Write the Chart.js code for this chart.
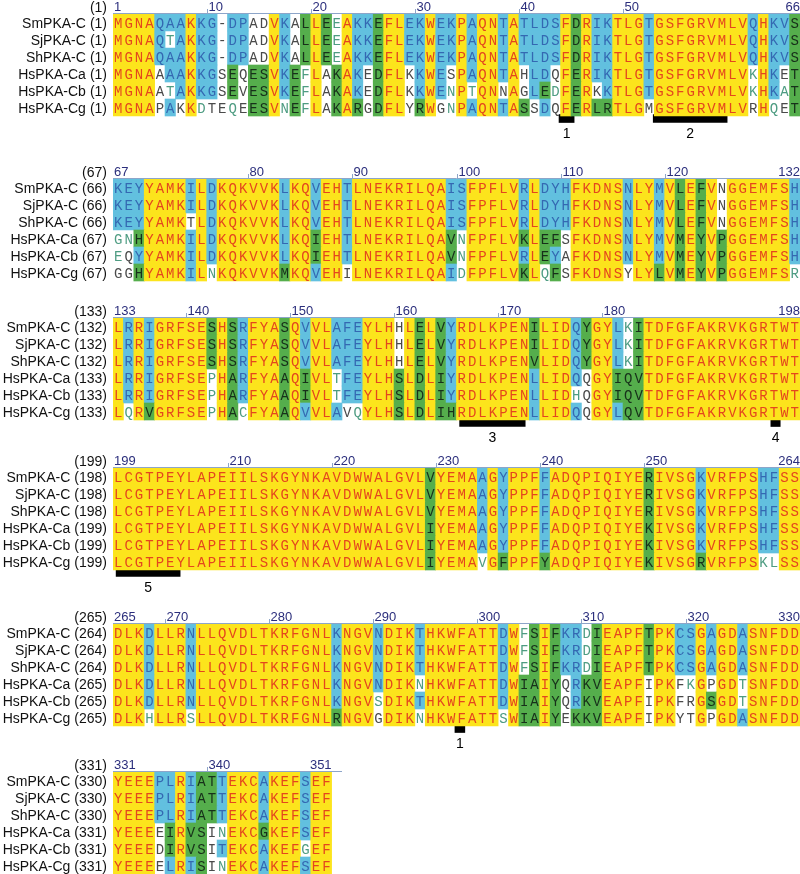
<!DOCTYPE html>
<html>
<head>
<meta charset="utf-8">
<script src="https://cdn.jsdelivr.net/npm/chart.js@4.4.1/dist/chart.umd.min.js"></script>
<style>
  html, body { margin: 0; padding: 0; background: #fff; }
  canvas { display: block; }
</style>
</head>
<body>
<canvas id="aln" width="800" height="874"></canvas>
<script>
const names = ["SmPKA-C", "SjPKA-C", "ShPKA-C", "HsPKA-Ca", "HsPKA-Cb", "HsPKA-Cg"]

// aligned sequences, one string per 66-column block
const seqSm = [
  "MGNAQAAKKG-DPADVKALLEEAKKEFLEKWEKPAQNTATLDSFDRIKTLGTGSFGRVMLVQHKVS",
  "KEYYAMKILDKQKVVKLKQVEHTLNEKRILQAISFPFLVRLDYHFKDNSNLYMVLEFVNGGEMFSH",
  "LRRIGRFSESHSRFYASQVVLAFEYLHHLELVYRDLKPENILIDQYGYLKITDFGFAKRVKGRTWT",
  "LCGTPEYLAPEIILSKGYNKAVDWWALGVLVYEMAAGYPPFFADQPIQIYERIVSGKVRFPSHFSS",
  "DLKDLLRNLLQVDLTKRFGNLKNGVNDIKTHKWFATTDWFSIFKRDIEAPFTPKCSGAGDASNFDD",
  "YEEEPLRIATTEKCAKEFSEF",
].join("")
const seqSj = [
  "MGNAQTAKKG-DPADVKALLEEAKKEFLEKWEKPAQNTATLDSFDRIKTLGTGSFGRVMLVQHKVS",
  "KEYYAMKILDKQKVVKLKQVEHTLNEKRILQAISFPFLVRLDYHFKDNSNLYMVLEFVNGGEMFSH",
  "LRRIGRFSESHSRFYASQVVLAFEYLHHLELVYRDLKPENILIDQYGYLKITDFGFAKRVKGRTWT",
  "LCGTPEYLAPEIILSKGYNKAVDWWALGVLVYEMAAGYPPFFADQPIQIYERIVSGKVRFPSHFSS",
  "DLKDLLRNLLQVDLTKRFGNLKNGVNDIKTHKWFATTDWFSIFKRDIEAPFTPKCSGAGDASNFDD",
  "YEEEPLRIATTEKCAKEFSEF",
].join("")
const seqSh = [
  "MGNAQAAKKG-DPADVKALLEEAKKEFLEKWEKPAQNTATLDSFDRIKTLGTGSFGRVMLVQHKVS",
  "KEYYAMKTLDKQKVVKLKQVEHTLNEKRILQAISFPFLVRLDYHFKDNSNLYMVLEFVNGGEMFSH",
  "LRRIGRFSESHSRFYASQVVLAFEYLHHLELVYRDLKPENVLIDQYGYLKITDFGFAKRVKGRTWT",
  "LCGTPEYLAPEIILSKGYNKAVDWWALGVLVYEMAAGYPPFFADQPIQIYERIVSGKVRFPSHFSS",
  "DLKDLLRNLLQVDLTKRFGNLKNGVNDIKTHKWFATTDWFSIFKRDIEAPFTPKCSGAGDASNFDD",
  "YEEEPLRIATTEKCAKEFSEF",
].join("")
const seqCa = [
  "MGNAAAAKKGSEQESVKEFLAKAKEDFLKKWESPAQNTAHLDQFERIKTLGTGSFGRVMLVKHKET",
  "GNHYAMKILDKQKVVKLKQIEHTLNEKRILQAVNFPFLVKLEFSFKDNSNLYMVMEYVPGGEMFSH",
  "LRRIGRFSEPHARFYAAQIVLTFEYLHSLDLIYRDLKPENLLIDQQGYIQVTDFGFAKRVKGRTWT",
  "LCGTPEYLAPEIILSKGYNKAVDWWALGVLIYEMAAGYPPFFADQPIQIYEKIVSGKVRFPSHFSS",
  "DLKDLLRNLLQVDLTKRFGNLKNGVNDIKNHKWFATTDWIAIYQRKVEAPFIPKFKGPGDTSNFDD",
  "YEEEEIRVSINEKCGKEFSEF",
].join("")
const seqCb = [
  "MGNAATAKKGSEVESVKEFLAKAKEDFLKKWENPTQNNAGLEDFERKKTLGTGSFGRVMLVKHKAT",
  "EQYYAMKILDKQKVVKLKQIEHTLNEKRILQAVNFPFLVRLEYAFKDNSNLYMVMEYVPGGEMFSH",
  "LRRIGRFSEPHARFYAAQIVLTFEYLHSLDLIYRDLKPENLLIDHQGYIQVTDFGFAKRVKGRTWT",
  "LCGTPEYLAPEIILSKGYNKAVDWWALGVLIYEMAAGYPPFFADQPIQIYEKIVSGKVRFPSHFSS",
  "DLKDLLRNLLQVDLTKRFGNLKNGVSDIKTHKWFATTDWIAIYQRKVEAPFIPKFRGSGDTSNFDD",
  "YEEEDIRVSITEKCAKEFGEF",
].join("")
const seqCg = [
  "MGNAPAKKDTEQEESVNEFLAKARGDFLYRWGNPAQNTASSDQFERLRTLGMGSFGRVMLVRHQET",
  "GGHYAMKILNKQKVVKMKQVEHILNEKRILQAIDFPFLVKLQFSFKDNSYLYLVMEYVPGGEMFSR",
  "LQRVGRFSEPHACFYAAQVVLAVQYLHSLDLIHRDLKPENLLIDQQGYLQVTDFGFAKRVKGRTWT",
  "LCGTPEYLAPEIILSKGYNKAVDWWALGVLIYEMAVGFPPFYADQPIQIYEKIVSGRVRFPSKLSS",
  "DLKHLLRSLLQVDLTKRFGNLRNGVGDIKNHKWFATTSWIAIYEKKVEAPFIPKYTGPGDASNFDD",
  "YEEEELRISINEKCAKEFSEF",
].join("")
const sequences = [seqSm, seqSj, seqSh, seqCa, seqCb, seqCg]

// shading per column, rows Sm..Cg top to bottom
// Y identical, B conserved, G similar, w weakly similar, n not similar; "Y9" = nine all-Y columns
const shade1 = "Y4 BBBnnn BwBBwB BBBBBn Y BBBBBw BBBBBn n BBBGGw BBBnnn nnnGGG nnnGGG Y BBBBBw nnnGGG GGGwww Y GGGnnn wwwGGG Y BBBBBG BBBnnn G Y2 BBBnnn BBBBBG Y BBBBBn BBBnww Y BBBBwB Y2 BBBBnB Y BBBnnG BBBBBn BBBBGB BBBnwn Y G Y BBBBnG BBBBBG Y3 BBBBBn Y9 BBBwwn Y BBBBBw BBBnwn G"
const shade2 = "BBBwwn BBBwnn BBBGBG Y4 BBnBBB Y BBBBBw Y6 BBBBBG Y2 BBBGGB Y2 BBBBBn Y9 BBBGGB BBBwww Y5 BBBGBG Y BBBGGw BBBGBG BBBnnn Y5 BBBBBn Y2 BBBBBG Y G Y G Y nnnGGG Y6 BBBBBw"
const shade3 = "Y BBBBBw Y BBBBBG Y5 GGGwww Y G BBBBBw Y3 G Y BBBGGB Y2 BBBwwB BBBBBn BBBBBw Y3 nnnGGG Y G Y G BBBBBG Y7 GGGBBB Y3 BBBBwB GGGnnn Y2 BBBGGB wwwGGG G Y15"
const shade4 = "Y30 G Y4 BBBBBw Y BBBBBG Y3 BBBBBG Y9 G Y4 BBBBBG Y5 BBBBBw BBBBBw Y2"
const shade5 = "Y3 BBBBBw Y3 BBBBBw Y13 BBBBBG Y3 BBBBwn Y3 BBBwBw Y7 BBBBBw Y wwwGGG G Y G BBBnnn BBBBBG wwwGGG G Y4 GGGnnn Y2 BBBnnn BBBwnn Y BBBnGn Y2 BBBwwB Y5"
const shade6 = "Y4 BBBnnn BBBGGB Y BBBGGB G GGGnnn BBBwBw Y3 BBBGBB Y3 BBBBwB Y2"

const rulerLabels = [
  [1, 10, 20, 30, 40, 50, 66],
  [67, 80, 90, 100, 110, 120, 132],
  [133, 140, 150, 160, 170, 180, 198],
  [199, 210, 220, 230, 240, 250, 264],
  [265, 270, 280, 290, 300, 310, 320, 330],
  [331, 340, 351],
]

// motif bars under the alignment, in column edges (0 = left edge of column 1)
const motifFrom = [42.85, 51.9, 165.3, 195.2, 198.3, 296.85]
const motifTo = [44.3, 59.0, 171.6, 196.1, 204.45, 297.8]
const motifText = ["1", "2", "3", "4", "5", "1"]

// layout
const COLS = 66
const ROW_H = 17
const blockTop = [14, 179, 318, 468, 624, 772]
const bg = { Y: "#FCE41C", B: "#62C0DF", G: "#55AE4C" }
const fg = { Y: "#E4461E", B: "#3468B2", G: "#17301A", w: "#4E9C82", n: "#4a4a4a" }

function expandShade(str) {
  const cols = []
  str.trim().split(/\s+/).forEach((tok) => {
    const m = tok.match(/^([YBGwn])(\d*)$/)
    if (m) {
      const count = m[2] ? +m[2] : 1
      for (let i = 0; i < count; i++) cols.push(m[1].repeat(6))
    } else {
      cols.push(tok)
    }
  })
  return cols
}

const shadeCols = [shade1, shade2, shade3, shade4, shade5, shade6].map(expandShade).flat()
const total = seqSm.length
if (shadeCols.length !== total) console.warn("shade columns", shadeCols.length, "vs", total)

const nBlocks = Math.ceil(total / COLS)
const rowCenter = (b, r) => blockTop[b] + r * ROW_H + ROW_H / 2

// merge runs of equal shading into single floating bars
const cellBars = []
const cellColors = []
for (let b = 0; b < nBlocks; b++) {
  const start = b * COLS
  const n = Math.min(COLS, total - start)
  for (let r = 0; r < sequences.length; r++) {
    let c = 0
    while (c < n) {
      const k = shadeCols[start + c][r]
      let e = c + 1
      while (e < n && shadeCols[start + e][r] === k) e++
      if (bg[k]) {
        cellBars.push({ x: [c, e], y: rowCenter(b, r) })
        cellColors.push(bg[k])
      }
      c = e
    }
  }
}

const motifBars = motifFrom.map((from, i) => {
  const b = Math.floor(from / COLS)
  return { x: [from - b * COLS, motifTo[i] - b * COLS], y: blockTop[b] + 6 * ROW_H + 2.5 }
})

const alignText = {
  id: "alignText",
  afterDatasetsDraw(chart) {
    const { ctx, scales: { x, y } } = chart
    ctx.save()
    for (let b = 0; b < nBlocks; b++) {
      const start = b * COLS
      const n = Math.min(COLS, total - start)
      const top = y.getPixelForValue(blockTop[b])

      // ruler
      ctx.strokeStyle = "#8da5c9"
      ctx.lineWidth = 1
      ctx.beginPath()
      ctx.moveTo(x.getPixelForValue(0), top - 0.5)
      ctx.lineTo(x.getPixelForValue(Math.min(n + 1, COLS)), top - 0.5)
      ctx.stroke()

      ctx.font = '13px "Liberation Sans", Arial, sans-serif'
      ctx.fillStyle = "#2b2e7c"
      ctx.textBaseline = "alphabetic"
      const labels = rulerLabels[b]
      labels.forEach((num, i) => {
        const col = num - start - 1
        if (i === 0) {
          ctx.textAlign = "left"
          ctx.fillText(String(num), x.getPixelForValue(col) + 1, top - 3)
        } else if (i === labels.length - 1) {
          ctx.textAlign = "right"
          ctx.fillText(String(num), x.getPixelForValue(col + 1), top - 3)
        } else {
          const px = Math.round(x.getPixelForValue(col)) + 0.5
          ctx.beginPath()
          ctx.moveTo(px, top - 1)
          ctx.lineTo(px, top - 5)
          ctx.stroke()
          ctx.textAlign = "left"
          ctx.fillText(String(num), px + 1, top - 3)
        }
      })

      ctx.font = '14px "Liberation Sans", Arial, sans-serif'
      ctx.fillStyle = "#111"
      ctx.textAlign = "right"
      ctx.fillText("(" + (start + 1) + ")", 107, top - 2)

      for (let r = 0; r < sequences.length; r++) {
        const seq = sequences[r]
        const cy = y.getPixelForValue(rowCenter(b, r))
        const pos = seq.slice(0, start).replace(/-/g, "").length + 1
        const num = "(" + pos + ")"
        ctx.font = '14px "Liberation Sans", Arial, sans-serif'
        ctx.fillStyle = "#111"
        ctx.textAlign = "right"
        ctx.fillText(num, 107, cy + 5)
        ctx.fillText(names[r], 107 - ctx.measureText(num).width - 4, cy + 5)

        ctx.font = '14px "Liberation Mono", monospace'
        ctx.textAlign = "center"
        for (let c = 0; c < n; c++) {
          ctx.fillStyle = fg[shadeCols[start + c][r]]
          ctx.fillText(seq[start + c], x.getPixelForValue(c + 0.5), cy + 5)
        }
      }
    }

    ctx.font = '14px "Liberation Sans", Arial, sans-serif'
    ctx.fillStyle = "#000"
    ctx.textAlign = "center"
    motifBars.forEach((bar, i) => {
      const cx = x.getPixelForValue((bar.x[0] + bar.x[1]) / 2)
      ctx.fillText(motifText[i], cx, y.getPixelForValue(bar.y) + 19)
    })
    ctx.restore()
  },
}

new Chart(document.getElementById("aln"), {
  type: "bar",
  data: {
    datasets: [
      {
        label: "shading",
        data: cellBars,
        backgroundColor: cellColors,
        borderWidth: 0,
        barThickness: ROW_H,
        grouped: false,
      },
      {
        label: "motifs",
        data: motifBars,
        backgroundColor: "#000",
        borderWidth: 0,
        barThickness: 8,
        grouped: false,
      },
    ],
  },
  options: {
    indexAxis: "y",
    responsive: false,
    animation: false,
    layout: { padding: { left: 113, right: 0, top: 0, bottom: 0 } },
    plugins: { legend: { display: false }, tooltip: { enabled: false } },
    scales: {
      x: { type: "linear", min: 0, max: COLS, offset: false, display: false },
      y: { type: "linear", min: 0, max: 874, reverse: true, offset: false, display: false },
    },
  },
  plugins: [alignText],
})
</script>
</body>
</html>
